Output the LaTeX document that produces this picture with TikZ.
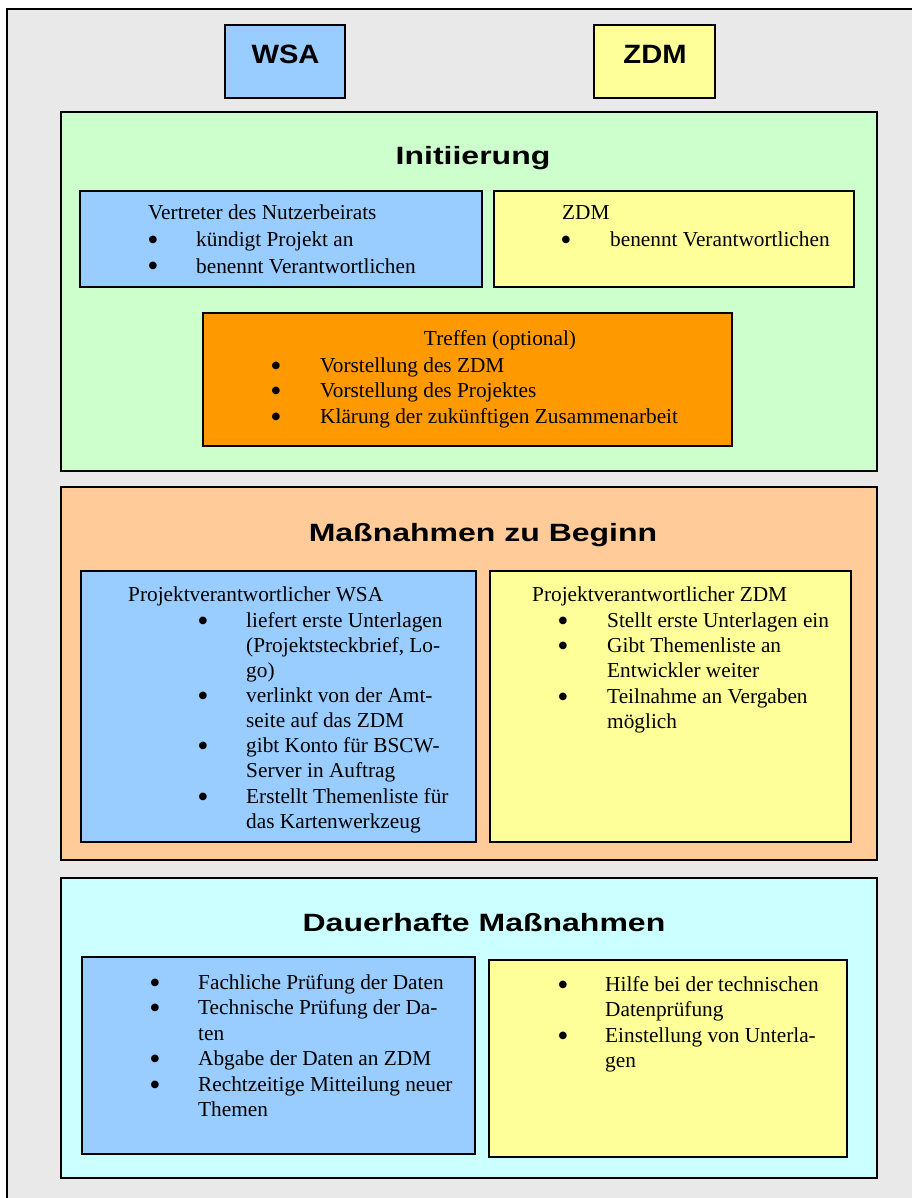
\documentclass[tikz,border=0pt]{standalone}
\usepackage{fontspec}
\usepackage{graphicx}
\setmainfont{Liberation Serif}
\newfontfamily\titlefont{Liberation Sans}
\newfontfamily\symfont{DejaVu Sans}
\usetikzlibrary{shadows}
\definecolor{bggray}{HTML}{E9E9E9}
\definecolor{cgreen}{HTML}{CCFFCC}
\definecolor{cblue}{HTML}{99CCFF}
\definecolor{cyellow}{HTML}{FFFF99}
\definecolor{corange}{HTML}{FF9900}
\definecolor{cpeach}{HTML}{FFCC99}
\definecolor{ccyan}{HTML}{CCFFFF}
\newcommand\bigbul{●}
\tikzset{
  box/.style={draw=black, line width=1.5pt, anchor=north west, inner sep=0pt, outer sep=0pt,
    drop shadow={shadow xshift=1.2pt, shadow yshift=-1.2pt, fill=black!55, opacity=1}},
  txt/.style={anchor=base west, inner sep=0pt, font=\fontsize{21.3}{25.5}\selectfont},
  ctxt/.style={anchor=base, inner sep=0pt, font=\fontsize{21.3}{25.5}\selectfont},
  bul/.style={anchor=base, inner sep=0pt, yshift=4pt, font=\symfont\fontsize{10}{12}\selectfont},
  ttl/.style={anchor=base, inner sep=0pt, font=\titlefont\bfseries\fontsize{25}{30}\selectfont},
  hdr/.style={anchor=base, inner sep=0pt, font=\titlefont\bfseries\fontsize{26.5}{30}\selectfont},
}
\begin{document}
\begin{tikzpicture}[x=1pt,y=-1pt]
\useasboundingbox (0,0) rectangle (911,1198);
% outer frame
\node[draw=black, line width=1.6pt, fill=bggray, anchor=north west, inner sep=0pt,
      minimum width=920pt, minimum height=1210pt] (frame) at (6,8) {};
% header boxes
\node[box, fill=cblue, minimum width=120pt, minimum height=73pt] (wsa) at (225,25) {};
\node[box, fill=cyellow, minimum width=121pt, minimum height=73pt] (zdm) at (594,25) {};
\node[hdr] (wsat) at (285.5,64) {\scalebox{1.1}[1]{WSA}};
\node[hdr] (zdmt) at (655,64) {\scalebox{1.1}[1]{ZDM}};

% ===== Initiierung =====
\node[box, fill=cgreen, minimum width=816pt, minimum height=359pt] (init) at (61,112) {};
\node[ttl] (initt) at (473,165) {\scalebox{1.28}[1]{Initiierung}};
\node[box, fill=cblue, minimum width=402pt, minimum height=96pt] (vnb) at (80,191) {};
\node[box, fill=cyellow, minimum width=360pt, minimum height=96pt] (izdm) at (494,191) {};
\node[txt] (vnbh) at (148,220) {Vertreter des Nutzerbeirats};
\node[bul] (vnbb1) at (153,247) {\bigbul};
\node[txt] (vnb1) at (196,247) {kündigt Projekt an};
\node[bul] (vnbb2) at (153,273) {\bigbul};
\node[txt] (vnb2) at (196,273) {benennt Verantwortlichen};
\node[txt] (izdmh) at (562,220) {ZDM};
\node[bul] (izdmb1) at (566,247) {\bigbul};
\node[txt] (izdm1) at (610,247) {benennt Verantwortlichen};

\node[box, fill=corange, minimum width=529pt, minimum height=133pt] (tref) at (203,313) {};
\node[ctxt] (trefh) at (500,345) {Treffen (optional)};
\node[bul] (trefb1) at (276,372) {\bigbul};
\node[txt] (tref1) at (320,372) {Vorstellung des ZDM};
\node[bul] (trefb2) at (276,397.5) {\bigbul};
\node[txt] (tref2) at (320,397.5) {Vorstellung des Projektes};
\node[bul] (trefb3) at (276,423) {\bigbul};
\node[txt] (tref3) at (320,423) {Klärung der zukünftigen Zusammenarbeit};

% ===== Massnahmen zu Beginn =====
\node[box, fill=cpeach, minimum width=816pt, minimum height=373pt] (beg) at (61,487) {};
\node[ttl] (begt) at (483,541) {\scalebox{1.28}[1]{Maßnahmen zu Beginn}};
\node[box, fill=cblue, minimum width=395pt, minimum height=271pt] (pwsa) at (81,571) {};
\node[box, fill=cyellow, minimum width=361pt, minimum height=271pt] (pzdm) at (490,571) {};
\node[txt] (pwsah) at (128,601) {Projektverantwortlicher WSA};
\node[bul] (pwsab1) at (203,627) {\bigbul};
\node[txt] (pwsa1) at (246,627) {liefert erste Unterlagen};
\node[txt] (pwsa2) at (246,652) {(Projektsteckbrief, Lo-};
\node[txt] (pwsa3) at (246,677) {go)};
\node[bul] (pwsab2) at (203,702) {\bigbul};
\node[txt] (pwsa4) at (246,702) {verlinkt von der Amt-};
\node[txt] (pwsa5) at (246,727) {seite auf das ZDM};
\node[bul] (pwsab3) at (203,752.5) {\bigbul};
\node[txt] (pwsa6) at (246,752.5) {gibt Konto für BSCW-};
\node[txt] (pwsa7) at (246,777.5) {Server in Auftrag};
\node[bul] (pwsab4) at (203,803) {\bigbul};
\node[txt] (pwsa8) at (246,803) {Erstellt Themenliste für};
\node[txt] (pwsa9) at (246,828) {das Kartenwerkzeug};

\node[txt] (pzdmh) at (532,601) {Projektverantwortlicher ZDM};
\node[bul] (pzdmb1) at (563,627) {\bigbul};
\node[txt] (pzdm1) at (607,627) {Stellt erste Unterlagen ein};
\node[bul] (pzdmb2) at (563,652) {\bigbul};
\node[txt] (pzdm2) at (607,652) {Gibt Themenliste an};
\node[txt] (pzdm3) at (607,677) {Entwickler weiter};
\node[bul] (pzdmb3) at (563,703) {\bigbul};
\node[txt] (pzdm4) at (607,703) {Teilnahme an Vergaben};
\node[txt] (pzdm5) at (607,728) {möglich};

% ===== Dauerhafte Massnahmen =====
\node[box, fill=ccyan, minimum width=816pt, minimum height=300pt] (dau) at (61,878) {};
\node[ttl] (daut) at (484,931) {\scalebox{1.28}[1]{Dauerhafte Maßnahmen}};
\node[box, fill=cblue, minimum width=393pt, minimum height=197pt] (dwsa) at (82,957) {};
\node[box, fill=cyellow, minimum width=358pt, minimum height=197pt] (dzdm) at (489,960) {};
\node[bul] (dwsab1) at (155,989) {\bigbul};
\node[txt] (dwsa1) at (198,989) {Fachliche Prüfung der Daten};
\node[bul] (dwsab2) at (155,1014.5) {\bigbul};
\node[txt] (dwsa2) at (198,1014.5) {Technische Prüfung der Da-};
\node[txt] (dwsa3) at (198,1040) {ten};
\node[bul] (dwsab3) at (155,1065.5) {\bigbul};
\node[txt] (dwsa4) at (198,1065.5) {Abgabe der Daten an ZDM};
\node[bul] (dwsab4) at (155,1091) {\bigbul};
\node[txt] (dwsa5) at (198,1091) {Rechtzeitige Mitteilung neuer};
\node[txt] (dwsa6) at (198,1116.5) {Themen};

\node[bul] (dzdmb1) at (563,991) {\bigbul};
\node[txt] (dzdm1) at (605,991) {Hilfe bei der technischen};
\node[txt] (dzdm2) at (605,1016.5) {Datenprüfung};
\node[bul] (dzdmb2) at (563,1042) {\bigbul};
\node[txt] (dzdm3) at (605,1042) {Einstellung von Unterla-};
\node[txt] (dzdm4) at (605,1067.5) {gen};
\end{tikzpicture}
\end{document}
